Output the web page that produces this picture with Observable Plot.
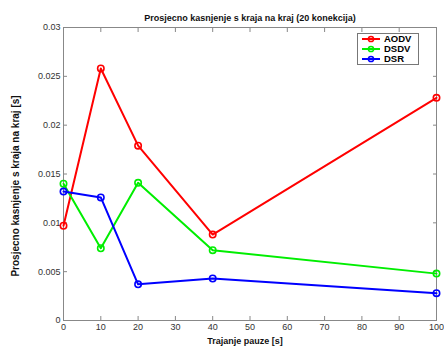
<!DOCTYPE html>
<html><head><meta charset="utf-8">
<script src="https://cdn.jsdelivr.net/npm/d3@7"></script>
<script src="https://cdn.jsdelivr.net/npm/@observablehq/plot@0.6"></script>
<style>
body{margin:0;background:#fff;font-family:"Liberation Sans",Arial,sans-serif;}
#wrap{position:relative;width:444px;height:352px;}
#legend{position:absolute;left:357px;top:33px;width:60px;height:30px;border:1px solid #777;background:#fff;font:bold 9.5px "Liberation Sans",Arial,sans-serif;}
#legend div{height:10px;line-height:10px;display:flex;align-items:center;padding-left:4px;}
#legend svg{margin-right:4px;}
</style></head>
<body><div id="wrap"><div id="chart"></div><div id="legend"></div></div>
<script>
const pauses = [0, 10, 20, 40, 100];
const aodv = [0.0097, 0.0258, 0.0179, 0.0088, 0.0228];
const dsdv = [0.0140, 0.0074, 0.0141, 0.0072, 0.0048];
const dsr  = [0.0132, 0.0126, 0.0037, 0.0043, 0.0028];
const seriesNames = ["AODV", "DSDV", "DSR"];
const seriesColors = ["#ff0000", "#00ee00", "#0000ff"];
const xTicks = [0,10,20,30,40,50,60,70,80,90,100];
const yTicks = [0,0.005,0.01,0.015,0.02,0.025,0.03];
const yTickLabels = ["0","0.005","0.01","0.015","0.02","0.025","0.03"];
const titleText = "Prosjecno kasnjenje s kraja na kraj (20 konekcija)";
const xLabel = "Trajanje pauze [s]";
const yLabel = "Prosjecno kasnjenje s kraja na kraj [s]";

const allSeries = [aodv, dsdv, dsr];
const data = [];
allSeries.forEach((vals, si) => vals.forEach((v, i) => data.push({series: seriesNames[si], x: pauses[i], y: v})));

const axisColor = "#888";
const plot = Plot.plot({
  width: 444, height: 352,
  marginLeft: 63, marginRight: 8, marginTop: 27, marginBottom: 32,
  style: {fontFamily: "'Liberation Sans', Arial, sans-serif", fontSize: "9px", color: "#333", background: "#fff"},
  x: {domain: [0, 100]},
  y: {domain: [0, 0.03]},
  color: {domain: seriesNames, range: seriesColors},
  marks: [
    Plot.frame({stroke: axisColor}),
    Plot.axisX({ticks: xTicks, tickSize: -4, tickPadding: 7, stroke: axisColor, label: null, tickFormat: d => String(d)}),
    Plot.axisX({anchor: "top", ticks: xTicks, tickSize: -4, stroke: axisColor, label: null, tickFormat: () => ""}),
    Plot.axisY({ticks: yTicks, tickSize: -4, tickPadding: 7, stroke: axisColor, label: null, tickFormat: d => yTickLabels[yTicks.indexOf(d)] ?? d}),
    Plot.axisY({anchor: "right", ticks: yTicks, tickSize: -4, stroke: axisColor, label: null, tickFormat: () => ""}),
    Plot.line(data, {x: "x", y: "y", z: "series", stroke: "series", strokeWidth: 2}),
    Plot.dot(data, {x: "x", y: "y", stroke: "series", r: 3.2, strokeWidth: 1.6, fill: "none"})
  ]
});
const svg = d3.select(plot);
svg.append("text").attr("x", 250).attr("y", 20.5).attr("text-anchor", "middle")
  .attr("font-weight", "bold").attr("font-size", "9px").attr("fill", "#111").text(titleText);
svg.append("text").attr("x", 245).attr("y", 344).attr("text-anchor", "middle")
  .attr("font-weight", "bold").attr("font-size", "9px").attr("fill", "#111").text(xLabel);
svg.append("text").attr("transform", "translate(19,186) rotate(-90)").attr("text-anchor", "middle")
  .attr("font-weight", "bold").attr("font-size", "10px").attr("fill", "#111").text(yLabel);
document.getElementById("chart").appendChild(plot);

const leg = d3.select("#legend");
seriesNames.forEach((n, i) => {
  const row = leg.append("div");
  const s = row.append("svg").attr("width", 18).attr("height", 8);
  s.append("line").attr("x1", 0).attr("x2", 18).attr("y1", 4).attr("y2", 4).attr("stroke", seriesColors[i]).attr("stroke-width", 2);
  s.append("circle").attr("cx", 9).attr("cy", 4).attr("r", 2.6).attr("fill", "none").attr("stroke", seriesColors[i]).attr("stroke-width", 1.5);
  row.append("span").text(n);
});
</script></body></html>
